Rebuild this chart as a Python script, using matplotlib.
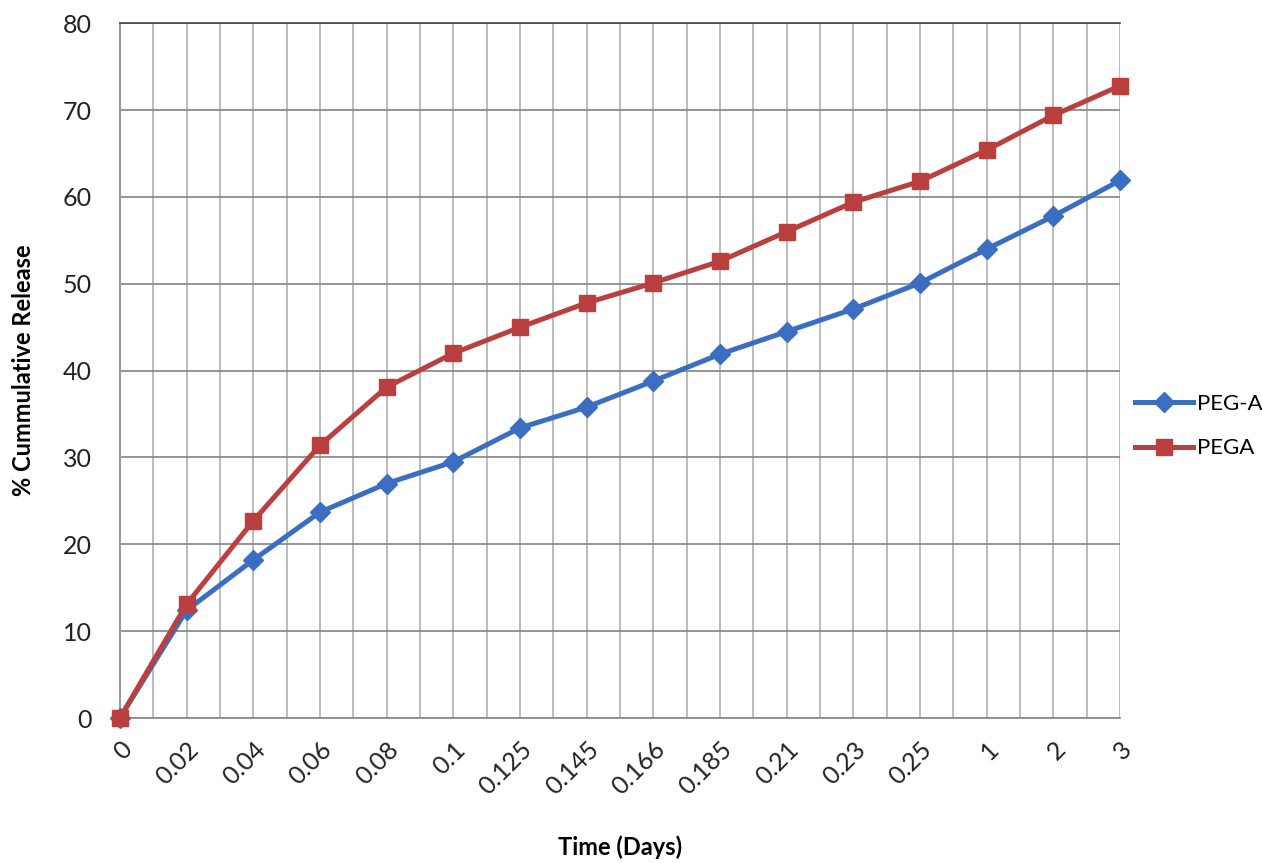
import matplotlib
matplotlib.use("Agg")
import matplotlib.pyplot as plt
from matplotlib.ticker import MultipleLocator

plt.rcParams['font.family'] = ['Lato', 'DejaVu Sans']

times = ["0", "0.02", "0.04", "0.06", "0.08", "0.1", "0.125", "0.145", "0.166",
         "0.185", "0.21", "0.23", "0.25", "1", "2", "3"]
peg_a = [0, 12.4, 18.2, 23.7, 27.0, 29.5, 33.4, 35.8, 38.8, 41.9, 44.5, 47.1, 50.1, 54.0, 57.8, 61.9]
pega = [0, 13.1, 22.7, 31.4, 38.1, 42.0, 45.0, 47.8, 50.1, 52.6, 56.0, 59.4, 61.8, 65.4, 69.4, 72.8]

fig = plt.figure(figsize=(12.62, 8.63), dpi=100)
ax = fig.add_axes([0.095, 0.168, 0.7925, 0.805])

x = list(range(len(times)))
ax.plot(x, peg_a, color='#3B6EC2', lw=3.6, marker='D', ms=10, mec='#3B6EC2', label='PEG-A',
        zorder=3, clip_on=False)
ax.plot(x, pega, color='#B9403E', lw=3.6, marker='s', ms=12, mec='#B9403E', label='PEGA',
        zorder=4, clip_on=False)

ax.set_xlim(0, len(times) - 1)
ax.set_ylim(0, 80)
ax.yaxis.set_major_locator(MultipleLocator(10))
ax.set_xticks(x)
ax.set_xticklabels(times, rotation=45, ha='right', rotation_mode='anchor', fontsize=18, color='#222222')
ax.xaxis.set_minor_locator(MultipleLocator(0.5))
ax.tick_params(axis='x', which='both', length=0, pad=14)
ax.tick_params(axis='y', length=0, pad=20, labelsize=18, labelcolor='#222222')

ax.grid(True, axis='x', which='both', color='#b5b5b5', lw=1.3)
ax.grid(True, axis='y', which='major', color='#8c8c8c', lw=1.3)
ax.set_axisbelow(True)

ax.spines['right'].set_visible(False)
ax.spines['top'].set_color('#444444')
ax.spines['top'].set_linewidth(1.2)
ax.spines['left'].set_color('#9a9a9a')
ax.spines['left'].set_linewidth(1.5)
ax.spines['bottom'].set_color('#8c8c8c')
ax.spines['bottom'].set_linewidth(1.3)

ax.set_xlabel('Time (Days)', fontsize=17, fontweight='bold', labelpad=26)
ax.set_ylabel('% Cummulative Release', fontsize=17, fontweight='bold', labelpad=20)

leg = ax.legend(loc='center left', bbox_to_anchor=(0.995, 0.42), frameon=False,
                fontsize=16, handlelength=2.6, labelspacing=1.1, handletextpad=0.2)

fig.savefig('out.png', dpi=100)
